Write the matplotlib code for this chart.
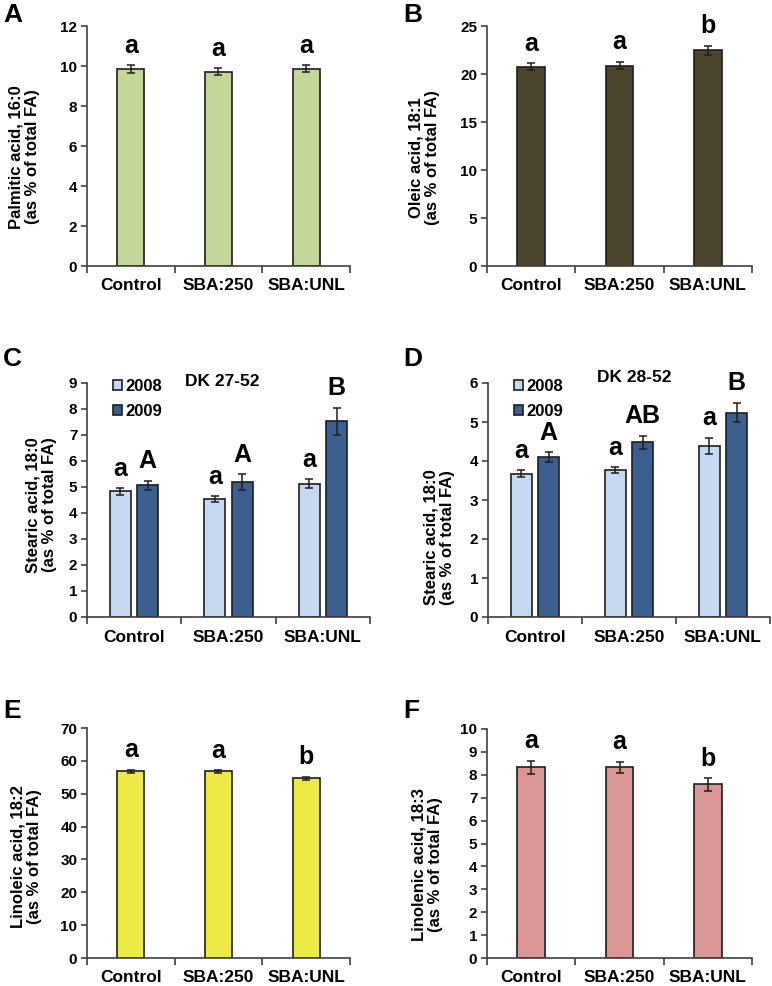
import matplotlib
matplotlib.use('Agg')
import matplotlib.pyplot as plt
import numpy as np

plt.rcParams['font.family'] = ['Liberation Sans', 'DejaVu Sans']
plt.rcParams['font.weight'] = 'bold'

# categories
treatments = ['Control', 'SBA:250', 'SBA:UNL']
years = ['2008', '2009']

# A - palmitic acid 16:0
palmitic = [9.85, 9.72, 9.86]
palmitic_err = [0.18, 0.18, 0.17]
palmitic_sig = ['a', 'a', 'a']

# B - oleic acid 18:1
oleic = [20.77, 20.87, 22.47]
oleic_err = [0.37, 0.4, 0.47]
oleic_sig = ['a', 'a', 'b']

# C - stearic acid, DK 27-52
stearic_c_2008 = [4.83, 4.54, 5.12]
stearic_c_2008_err = [0.13, 0.1, 0.17]
stearic_c_2009 = [5.06, 5.19, 7.53]
stearic_c_2009_err = [0.19, 0.31, 0.52]
stearic_c_sig_2008 = ['a', 'a', 'a']
stearic_c_sig_2009 = ['A', 'A', 'B']

# D - stearic acid, DK 28-52
stearic_d_2008 = [3.67, 3.77, 4.38]
stearic_d_2008_err = [0.09, 0.07, 0.21]
stearic_d_2009 = [4.10, 4.48, 5.24]
stearic_d_2009_err = [0.13, 0.17, 0.25]
stearic_d_sig_2008 = ['a', 'a', 'a']
stearic_d_sig_2009 = ['A', 'AB', 'B']

# E - linoleic acid 18:2
linoleic = [56.8, 56.8, 54.7]
linoleic_err = [0.45, 0.4, 0.45]
linoleic_sig = ['a', 'a', 'b']

# F - linolenic acid 18:3
linolenic = [8.32, 8.32, 7.58]
linolenic_err = [0.29, 0.24, 0.28]
linolenic_sig = ['a', 'a', 'b']

EDGE = '#1e1e1e'
AXC = '#404040'
FIG_W, FIG_H = 772, 986


def px_axes(left, top, right, bottom):
    # pixel box -> figure fraction
    return [left / FIG_W, 1 - bottom / FIG_H, (right - left) / FIG_W, (bottom - top) / FIG_H]


def style_axes(ax, ymax, ystep, ylabel, label_x, label_y):
    x = np.arange(len(treatments))
    ax.set_xlim(-0.5, 2.5)
    ax.set_ylim(0, ymax)
    ax.set_yticks(np.arange(0, ymax + 0.01, ystep))
    ax.set_xticks(x)
    ax.set_xticklabels(treatments, fontsize=12.5, fontweight='bold')
    ax.set_xticks([-0.5, 0.5, 1.5, 2.5], minor=True)
    ax.tick_params(axis='x', which='major', length=0, pad=9)
    ax.tick_params(axis='x', which='minor', length=5, width=1.2, color=AXC, direction='out')
    ax.tick_params(axis='y', length=4, width=1.2, color=AXC, labelsize=11, pad=3)
    for lab in ax.get_yticklabels():
        lab.set_fontweight('bold')
    for s in ['top', 'right']:
        ax.spines[s].set_visible(False)
    for s in ['left', 'bottom']:
        ax.spines[s].set_color(AXC)
        ax.spines[s].set_linewidth(1.2)
    ax.set_ylabel(ylabel, fontsize=12, fontweight='bold', linespacing=1.1)
    ax.yaxis.set_label_coords(label_x, label_y)


def sig_letters(ax, xs, vals, errs, letters):
    for xi, v, e, s in zip(xs, vals, errs, letters):
        ax.annotate(s, (xi, v + e), xytext=(0, 9), textcoords='offset points',
                    ha='center', va='baseline', fontsize=18, fontweight='bold',
                    annotation_clip=False)


def single_panel(ax, vals, errs, letters, color, ymax, ystep, ylabel, lx, ly):
    x = np.arange(len(treatments))
    ax.bar(x, vals, width=0.31, color=color, edgecolor=EDGE, linewidth=1.2,
           yerr=errs, capsize=3,
           error_kw=dict(elinewidth=1.1, capthick=1.1, ecolor=EDGE), zorder=2)
    sig_letters(ax, x, vals, errs, letters)
    style_axes(ax, ymax, ystep, ylabel, lx, ly)


def paired_panel(ax, v08, e08, v09, e09, s08, s09, title, title_x, title_y,
                 ymax, ylabel, lx, ly):
    x = np.arange(len(treatments))
    w = 0.22
    off = 0.145
    ekw = dict(elinewidth=1.1, capthick=1.1, ecolor=EDGE)
    ax.bar(x - off, v08, width=w, color='#c6d9f1', edgecolor=EDGE, linewidth=1.2,
           yerr=e08, capsize=3, error_kw=ekw, label=years[0], zorder=2)
    ax.bar(x + off, v09, width=w, color='#3b5f8f', edgecolor=EDGE, linewidth=1.2,
           yerr=e09, capsize=3, error_kw=ekw, label=years[1], zorder=2)
    sig_letters(ax, x - off, v08, e08, s08)
    sig_letters(ax, x + off, v09, e09, s09)
    style_axes(ax, ymax, 1, ylabel, lx, ly)
    ax.text(title_x, title_y, title, transform=ax.transAxes, ha='center',
            va='baseline', fontsize=12.5, fontweight='bold')
    leg = ax.legend(loc='upper left', bbox_to_anchor=(0.07, 1.045), frameon=False,
                    fontsize=12, handlelength=0.5, handleheight=0.5,
                    handletextpad=0.2, labelspacing=0.6, borderaxespad=0)
    for t in leg.get_texts():
        t.set_fontweight('bold')


fig = plt.figure(figsize=(FIG_W / 100, FIG_H / 100), dpi=100)

axA = fig.add_axes(px_axes(87, 26, 350, 266))
single_panel(axA, palmitic, palmitic_err, palmitic_sig, '#c4d79b', 12, 2,
             'Palmitic acid, 16:0\n(as % of total FA)', -0.179, 0.455)

axB = fig.add_axes(px_axes(487, 26, 752, 266))
single_panel(axB, oleic, oleic_err, oleic_sig, '#4a452c', 25, 5,
             'Oleic acid, 18:1\n(as % of total FA)', -0.177, 0.45)

axC = fig.add_axes(px_axes(87, 383, 370, 617))
paired_panel(axC, stearic_c_2008, stearic_c_2008_err, stearic_c_2009, stearic_c_2009_err,
             stearic_c_sig_2008, stearic_c_sig_2009, 'DK 27-52', 0.477, 0.987,
             9, 'Stearic acid, 18:0\n(as % of total FA)', -0.106, 0.48)

axD = fig.add_axes(px_axes(488, 383, 770, 617))
paired_panel(axD, stearic_d_2008, stearic_d_2008_err, stearic_d_2009, stearic_d_2009_err,
             stearic_d_sig_2008, stearic_d_sig_2009, 'DK 28-52', 0.52, 1.004,
             6, 'Stearic acid, 18:0\n(as % of total FA)', -0.117, 0.34)

axE = fig.add_axes(px_axes(87, 728, 350, 958))
single_panel(axE, linoleic, linoleic_err, linoleic_sig, '#eeea45', 70, 10,
             'Linoleic acid, 18:2\n(as % of total FA)', -0.172, 0.44)

axF = fig.add_axes(px_axes(487, 729, 752, 958))
single_panel(axF, linolenic, linolenic_err, linolenic_sig, '#d99694', 10, 1,
             'Linolenic acid, 18:3\n(as % of total FA)', -0.166, 0.41)

# panel letters
for letter, xp, yp in [('A', 3, 22), ('B', 403, 22), ('C', 3, 366),
                       ('D', 403, 366), ('E', 3, 718), ('F', 403, 718)]:
    fig.text(xp / FIG_W, 1 - yp / FIG_H, letter, fontsize=19, fontweight='bold',
             ha='left', va='baseline')

fig.savefig('out.png', dpi=100)
